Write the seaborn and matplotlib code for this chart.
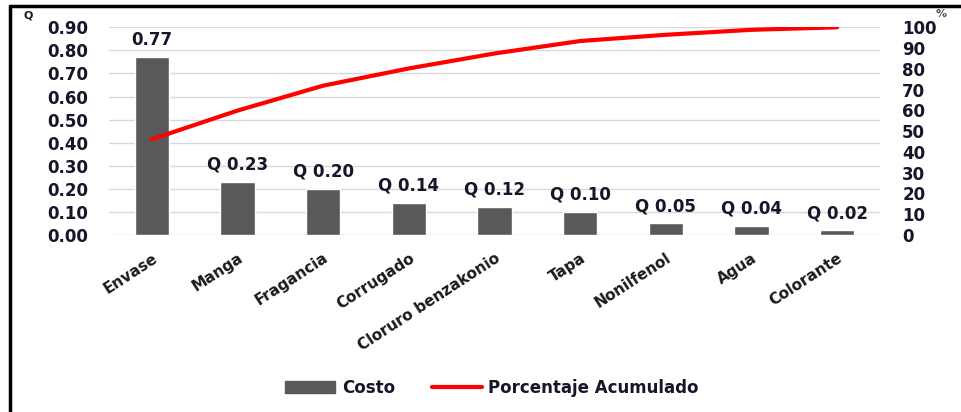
import matplotlib
matplotlib.use("Agg")
import matplotlib.pyplot as plt
from matplotlib.patches import Patch
from matplotlib.lines import Line2D
import seaborn as sns
import pandas as pd

# Pareto data: cost per component and cumulative percentage
categories = ["Envase", "Manga", "Fragancia", "Corrugado", "Cloruro benzakonio",
              "Tapa", "Nonilfenol", "Agua", "Colorante"]
costo = [0.77, 0.23, 0.20, 0.14, 0.12, 0.10, 0.05, 0.04, 0.02]
acumulado = [46.1, 59.9, 71.9, 80.2, 87.4, 93.4, 96.4, 98.8, 100.0]
left_ticks = [0.0, 0.1, 0.2, 0.3, 0.4, 0.5, 0.6, 0.7, 0.8, 0.9]
right_ticks = [0, 10, 20, 30, 40, 50, 60, 70, 80, 90, 100]

sns.set_theme(style="white")
plt.rcParams["font.family"] = ["DejaVu Sans"]

BAR = "#595959"
RED = "#FF0000"
TXT = "#16162a"

df = pd.DataFrame({"categoria": categories, "costo": costo, "acumulado": acumulado})

fig = plt.figure(figsize=(9.61, 4.12), dpi=100)
ax = fig.add_axes([0.1134, 0.4296, 0.8023, 0.5041])

sns.barplot(data=df, x="categoria", y="costo", color=BAR, width=0.4,
            saturation=1, ax=ax, zorder=2)
ax.set_ylim(0, 0.9)
ax.set_xlim(-0.5, len(categories) - 0.5)
ax.set_yticks(left_ticks)
ax.set_yticklabels([f"{t:.2f}" for t in left_ticks], fontsize=12,
                   fontweight="bold", color=TXT)
ax.tick_params(axis="y", length=0, pad=15)
ax.tick_params(axis="x", length=0, pad=11)
ax.set_xticks(range(len(categories)))
ax.set_xticklabels(categories, rotation=33, ha="right", rotation_mode="anchor",
                   fontsize=11, fontweight="bold", color="#1a1a1a")
ax.set_xlabel("")
ax.set_ylabel("")
ax.grid(axis="y", color="#d9d9d9", linewidth=1)
ax.set_axisbelow(True)
for s in ax.spines.values():
    s.set_visible(False)

labels = [f"{costo[0]:.2f}"] + [f"Q {v:.2f}" for v in costo[1:]]
ax.bar_label(ax.containers[0], labels=labels, padding=6, fontsize=12,
             fontweight="bold", color=TXT)

ax2 = ax.twinx()
sns.lineplot(x=list(range(len(categories))), y=acumulado, ax=ax2, color=RED,
             linewidth=3, zorder=3)
ax2.set_ylim(0, 100)
ax2.set_yticks(right_ticks)
ax2.set_yticklabels([str(t) for t in right_ticks], fontsize=12,
                    fontweight="bold", color=TXT)
ax2.tick_params(axis="y", length=0, pad=16)
ax2.set_ylabel("")
ax2.grid(False)
for s in ax2.spines.values():
    s.set_visible(False)

fig.text(28 / 961, 1 - 15 / 412, "Q", fontsize=8, fontweight="bold",
         color=TXT, ha="center", va="center")
fig.text(941 / 961, 1 - 14 / 412, "%", fontsize=8, fontweight="bold",
         color="#555566", ha="center", va="center")

handles = [Patch(facecolor=BAR, edgecolor=BAR),
           Line2D([0], [0], color=RED, linewidth=3)]
fig.legend(handles, ["Costo", "Porcentaje Acumulado"], loc="center",
           bbox_to_anchor=(0.512, 0.058), ncol=2, frameon=False,
           prop={"size": 12, "weight": "bold"}, handlelength=3.0,
           columnspacing=2.2, handletextpad=0.4, labelcolor=TXT)

# outer frame: top and left edges
fig.add_artist(Line2D([10 / 961, 10 / 961], [0, 1 - 6 / 412],
                      transform=fig.transFigure, color="black", linewidth=2.5))
fig.add_artist(Line2D([10 / 961, 1], [1 - 6 / 412, 1 - 6 / 412],
                      transform=fig.transFigure, color="black", linewidth=2.5))

fig.savefig("out.png", dpi=100, facecolor="white")
